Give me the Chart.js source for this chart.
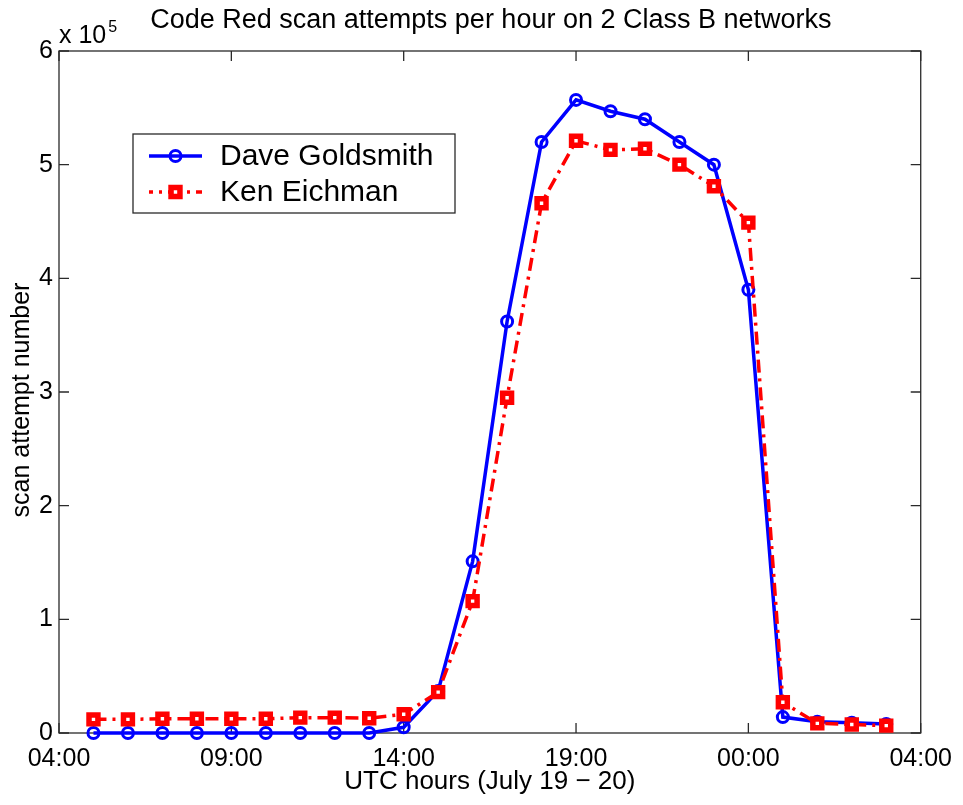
<!DOCTYPE html>
<html><head><meta charset="utf-8">
<script src="https://cdn.jsdelivr.net/npm/chart.js@4.4.1/dist/chart.umd.min.js"></script>
<style>html,body{margin:0;padding:0;background:#fff;} #wrap{width:963px;height:805px;}</style>
</head><body>
<div id="wrap"><canvas id="c" width="963" height="805"></canvas></div>
<script>
// hours after 04:00 (July 19)
const hours = [1,2,3,4,5,6,7,8,9,10,11,12,13,14,15,16,17,18,19,20,21,22,23,24];
const xTickLabels = ['04:00','09:00','14:00','19:00','00:00','04:00'];
const yTickLabels = ['0','1','2','3','4','5','6'];
const daveGoldsmith = [0,0,0,0,0,0,0,0,0,5000,37000,151000,362000,520000,557000,547000,540000,520000,500000,390000,14000,10000,9000,8000];
const kenEichman = [12000,12000,12500,12500,12500,12500,13500,13500,13000,16500,36000,116000,295000,466000,521000,513000,514000,500000,481000,449000,27000,8500,7500,6500];
const seriesNames = ['Dave Goldsmith','Ken Eichman'];
const chartTitle = 'Code Red scan attempts per hour on 2 Class B networks';
const xTitle = 'UTC hours (July 19 \u2212 20)';
const yTitle = 'scan attempt number';

const FONT = '"Liberation Sans", Arial, Helvetica, sans-serif';
const BLUE = '#0000ff', RED = '#ff0000', AXIS = '#2a2a2a';

function pts(vals){ return hours.map((h,i)=>({x:h, y:vals[i]})); }

function drawMarker(ctx, ds, x, y){
  ctx.save();
  ctx.setLineDash([]);
  ctx.lineWidth = ds.pointBorderWidth;
  ctx.strokeStyle = ds.pointBorderColor;
  ctx.fillStyle = ds.pointBackgroundColor;
  ctx.beginPath();
  if (ds.pointStyle === 'rect') {
    const s = Math.SQRT1_2 * ds.pointRadius;
    ctx.rect(x - s, y - s, 2*s, 2*s);
  } else {
    ctx.arc(x, y, ds.pointRadius, 0, Math.PI*2);
  }
  ctx.fill(); ctx.stroke();
  ctx.restore();
}

const framePlugin = {
  id: 'frame',
  beforeDatasetsDraw(chart){
    const {ctx, chartArea:a, scales:{x, y}} = chart;
    ctx.save();
    ctx.strokeStyle = AXIS; ctx.lineWidth = 1.3;
    ctx.strokeRect(a.left, a.top, a.right - a.left, a.bottom - a.top);
    ctx.beginPath();
    x.ticks.forEach(t => {
      const px = x.getPixelForValue(t.value);
      ctx.moveTo(px, a.bottom); ctx.lineTo(px, a.bottom - 10);
      ctx.moveTo(px, a.top); ctx.lineTo(px, a.top + 10);
    });
    y.ticks.forEach(t => {
      const py = y.getPixelForValue(t.value);
      ctx.moveTo(a.left, py); ctx.lineTo(a.left + 10, py);
      ctx.moveTo(a.right, py); ctx.lineTo(a.right - 10, py);
    });
    ctx.stroke();
    ctx.restore();
  },
  afterDraw(chart){
    const {ctx, chartArea:a} = chart;
    ctx.save();
    ctx.fillStyle = '#000';
    // main title
    ctx.font = '27px ' + FONT;
    ctx.textAlign = 'center'; ctx.textBaseline = 'middle';
    ctx.fillText(chartTitle, (a.left + a.right)/2 + 1, 21);
    // x title
    ctx.font = '26px ' + FONT;
    ctx.fillText(xTitle, (a.left + a.right)/2, 782);
    // y title
    ctx.save();
    ctx.font = '25px ' + FONT;
    ctx.translate(22, (a.top + a.bottom)/2 + 8);
    ctx.rotate(-Math.PI/2);
    ctx.fillText(yTitle, 0, 0);
    ctx.restore();
    // exponent
    ctx.textAlign = 'left'; ctx.textBaseline = 'alphabetic';
    ctx.font = '25px ' + FONT;
    ctx.fillText('x 10', a.left, 43);
    const w = ctx.measureText('x 10').width;
    ctx.font = '16px ' + FONT;
    ctx.fillText('5', a.left + w + 2, 32);
    // legend
    const lx = 133, ly = 134, lw = 322, lh = 79;
    ctx.fillStyle = '#fff';
    ctx.fillRect(lx, ly, lw, lh);
    ctx.strokeStyle = AXIS; ctx.lineWidth = 1.3;
    ctx.strokeRect(lx, ly, lw, lh);
    const rows = [156, 192];
    chart.data.datasets.forEach((ds, i) => {
      const ry = rows[i];
      ctx.save();
      ctx.strokeStyle = ds.borderColor; ctx.lineWidth = ds.borderWidth;
      ctx.setLineDash(ds.borderDash || []);
      if (ds.borderDash) ctx.lineDashOffset = 9;
      ctx.beginPath(); ctx.moveTo(149, ry); ctx.lineTo(202, ry); ctx.stroke();
      ctx.restore();
      drawMarker(ctx, ds, 175.5, ry);
      ctx.fillStyle = '#000';
      ctx.font = '30px ' + FONT;
      ctx.textAlign = 'left'; ctx.textBaseline = 'middle';
      ctx.fillText(seriesNames[i], 220, ry + 1);
    });
    ctx.restore();
  }
};

new Chart(document.getElementById('c').getContext('2d'), {
  type: 'line',
  data: {
    datasets: [
      { label: seriesNames[0], data: pts(daveGoldsmith), borderColor: BLUE, borderWidth: 3.5,
        pointStyle: 'circle', pointRadius: 5.5, pointBorderWidth: 3,
        pointBackgroundColor: 'rgba(0,0,0,0)', pointBorderColor: BLUE,
        tension: 0, clip: false, order: 2 },
      { label: seriesNames[1], data: pts(kenEichman), borderColor: RED, borderWidth: 3.5,
        borderDash: [13, 6, 3, 6],
        pointStyle: 'rect', pointRadius: 6.3, pointBorderWidth: 5.5,
        pointBackgroundColor: '#ffffff', pointBorderColor: RED,
        tension: 0, clip: false, order: 1 }
    ]
  },
  options: {
    responsive: false, animation: false, devicePixelRatio: 1,
    layout: { padding: { top: 51, right: 39, left: 0, bottom: 0 } },
    plugins: { legend: { display: false }, tooltip: { enabled: false }, title: { display: false } },
    scales: {
      x: {
        type: 'linear', min: 0, max: 25,
        ticks: { stepSize: 5, autoSkip: false, maxRotation: 0, padding: 11,
          callback: (v, i) => xTickLabels[i], color: '#000', font: { family: FONT, size: 25 } },
        grid: { display: false, drawTicks: false },
        border: { display: false },
        afterFit: s => { s.height = 72; }
      },
      y: {
        min: 0, max: 600000,
        ticks: { stepSize: 100000, padding: 6,
          callback: v => yTickLabels[Math.round(v / 100000)], color: '#000', font: { family: FONT, size: 25 } },
        grid: { display: false, drawTicks: false },
        border: { display: false },
        afterFit: s => { s.width = 59; }
      }
    }
  },
  plugins: [framePlugin]
});
</script>
</body></html>
